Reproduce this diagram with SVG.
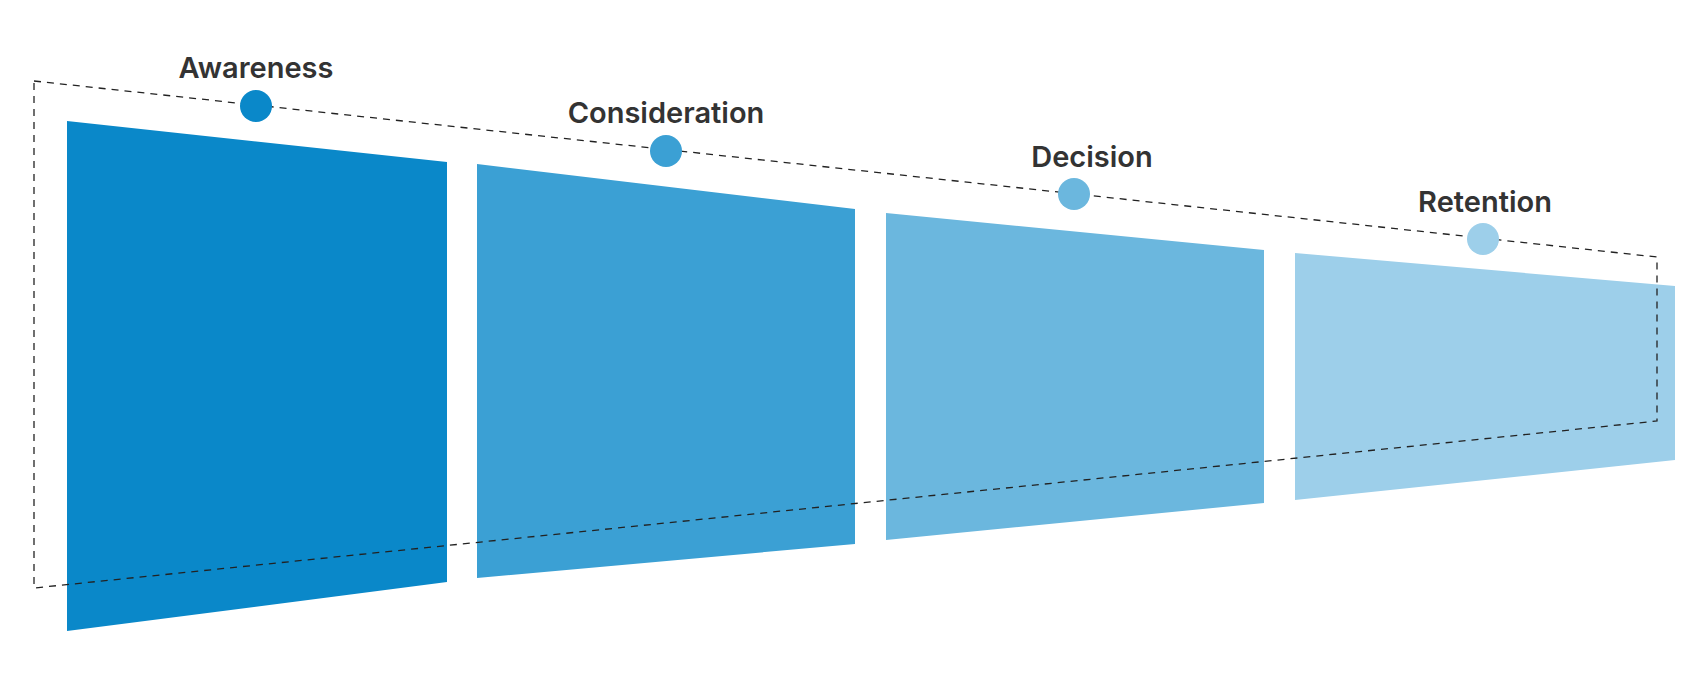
<svg xmlns="http://www.w3.org/2000/svg" width="1700" height="680" viewBox="0 0 1700 680">
<style>
text{font-family:"Inter","Liberation Sans",sans-serif;font-weight:600;font-size:29px;fill:#333;text-anchor:middle}
.d{fill:none;stroke:#222;stroke-width:1.3;stroke-dasharray:7 6}
</style>
<rect width="1700" height="680" fill="#fff"/>
<g id="stage1"><polygon points="67,121 447,162 447,582 67,631" fill="#0a88c9"/></g>
<g id="stage2"><polygon points="477,164 855,209 855,544 477,578" fill="#3ba0d4"/></g>
<g id="stage3"><polygon points="886,213 1264,250 1264,503 886,540" fill="#6bb7de"/></g>
<g id="stage4"><polygon points="1295,253 1675,286 1675,460 1295,500" fill="#9dcfea"/></g>
<g id="connectors"><polygon class="d" points="34,81 1657,257 1657,421 34,588"/></g>
<g id="awareness"><circle cx="256" cy="106" r="16" fill="#0a88c9"/><text x="256" y="78">Awareness</text></g>
<g id="consideration"><circle cx="666" cy="151" r="16" fill="#3ba0d4"/><text x="666" y="123">Consideration</text></g>
<g id="decision"><circle cx="1074" cy="194" r="16" fill="#6bb7de"/><text x="1092" y="167">Decision</text></g>
<g id="retention"><circle cx="1483" cy="239" r="16" fill="#9dcfea"/><text x="1485" y="212">Retention</text></g>
</svg>
